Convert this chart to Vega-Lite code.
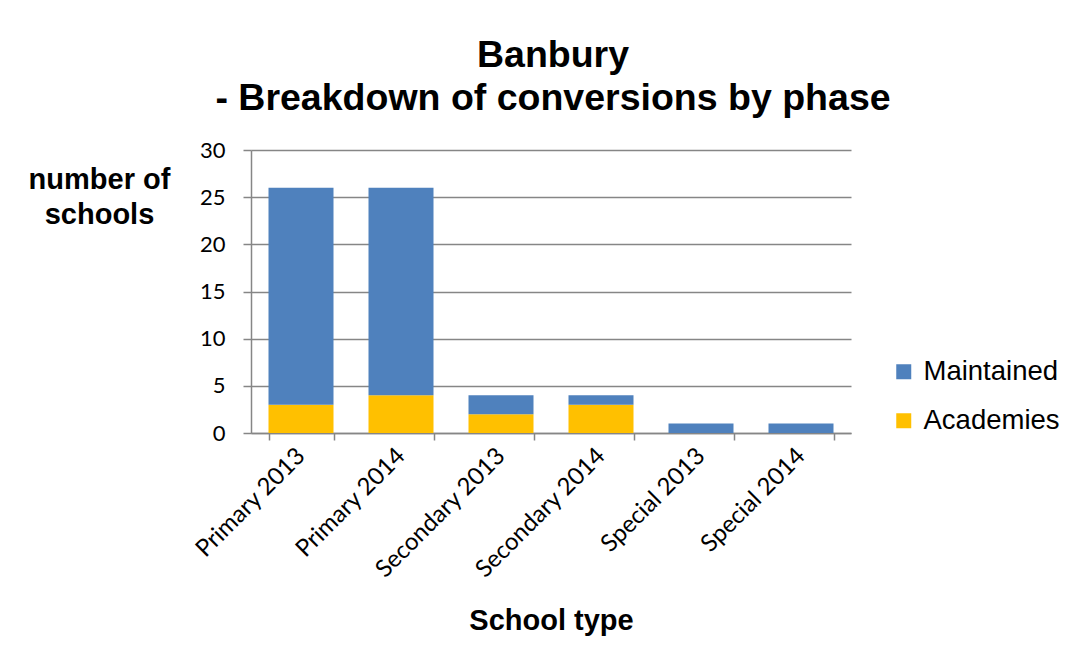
{
  "$schema": "https://vega.github.io/schema/vega-lite/v6.json",
  "autosize": "none",
  "width": 600,
  "height": 283,
  "padding": {"left": 251, "top": 150, "right": 225, "bottom": 230},
  "background": "white",
  "title": {
    "text": ["Banbury", "- Breakdown of conversions by phase"],
    "font": "Liberation Sans",
    "fontSize": 37.5,
    "fontWeight": "bold",
    "color": "#000000",
    "anchor": "middle",
    "dx": 2,
    "offset": 22,
    "lineHeight": 43
  },
  "data": {
    "values": [
      {"type": "Primary 2013", "series": "Academies", "value": 3},
      {"type": "Primary 2013", "series": "Maintained", "value": 23},
      {"type": "Primary 2014", "series": "Academies", "value": 4},
      {"type": "Primary 2014", "series": "Maintained", "value": 22},
      {"type": "Secondary 2013", "series": "Academies", "value": 2},
      {"type": "Secondary 2013", "series": "Maintained", "value": 2},
      {"type": "Secondary 2014", "series": "Academies", "value": 3},
      {"type": "Secondary 2014", "series": "Maintained", "value": 1},
      {"type": "Special 2013", "series": "Academies", "value": 0},
      {"type": "Special 2013", "series": "Maintained", "value": 1},
      {"type": "Special 2014", "series": "Academies", "value": 0},
      {"type": "Special 2014", "series": "Maintained", "value": 1}
    ]
  },
  "mark": {"type": "bar"},
  "encoding": {
    "x": {
      "field": "type",
      "type": "nominal",
      "sort": null,
      "scale": {"paddingInner": 0.35, "paddingOuter": 0.175},
      "axis": {
        "title": "School type",
        "titleFont": "Liberation Sans",
        "titleFontSize": 29,
        "titleFontWeight": "bold",
        "titleColor": "#000000",
        "titlePadding": 24,
        "labelAngle": -45,
        "labelAlign": "right",
        "labelBaseline": "middle",
        "labelFont": "Lato",
        "labelFontSize": 24,
        "labelColor": "#000000",
        "labelPadding": 12,
        "domainColor": "#868686",
        "domainWidth": 1.5,
        "ticks": true,
        "tickBand": "extent",
        "tickColor": "#868686",
        "tickWidth": 1.5,
        "tickSize": 7
      }
    },
    "y": {
      "field": "value",
      "type": "quantitative",
      "stack": "zero",
      "scale": {"domain": [0, 30], "nice": false},
      "axis": {
        "values": [0, 5, 10, 15, 20, 25, 30],
        "title": ["number of", "schools"],
        "titleAngle": 0,
        "titleAlign": "center",
        "titleBaseline": "top",
        "titleX": -152,
        "titleY": 15,
        "titleFont": "Liberation Sans",
        "titleFontSize": 29,
        "titleFontWeight": "bold",
        "titleColor": "#000000",
        "titleLineHeight": 35,
        "labelFont": "Lato",
        "labelFontSize": 22,
        "labelColor": "#000000",
        "labelPadding": 18,
        "domainColor": "#868686",
        "domainWidth": 1.5,
        "tickColor": "#868686",
        "tickSize": 8,
        "tickWidth": 1.5,
        "grid": true,
        "gridColor": "#868686",
        "gridWidth": 1.5
      }
    },
    "color": {
      "field": "series",
      "type": "nominal",
      "scale": {"domain": ["Maintained", "Academies"], "range": ["#4F81BD", "#FFC000"]},
      "legend": {
        "title": null,
        "orient": "none",
        "legendX": 639,
        "legendY": 208,
        "symbolType": "square",
        "symbolSize": 225,
        "symbolStrokeWidth": 0,
        "labelFont": "Liberation Sans",
        "labelFontSize": 27.5,
        "labelColor": "#000000",
        "rowPadding": 20,
        "labelOffset": 6
      }
    },
    "order": {"field": "series", "sort": "ascending"}
  },
  "config": {"view": {"stroke": null}}
}
